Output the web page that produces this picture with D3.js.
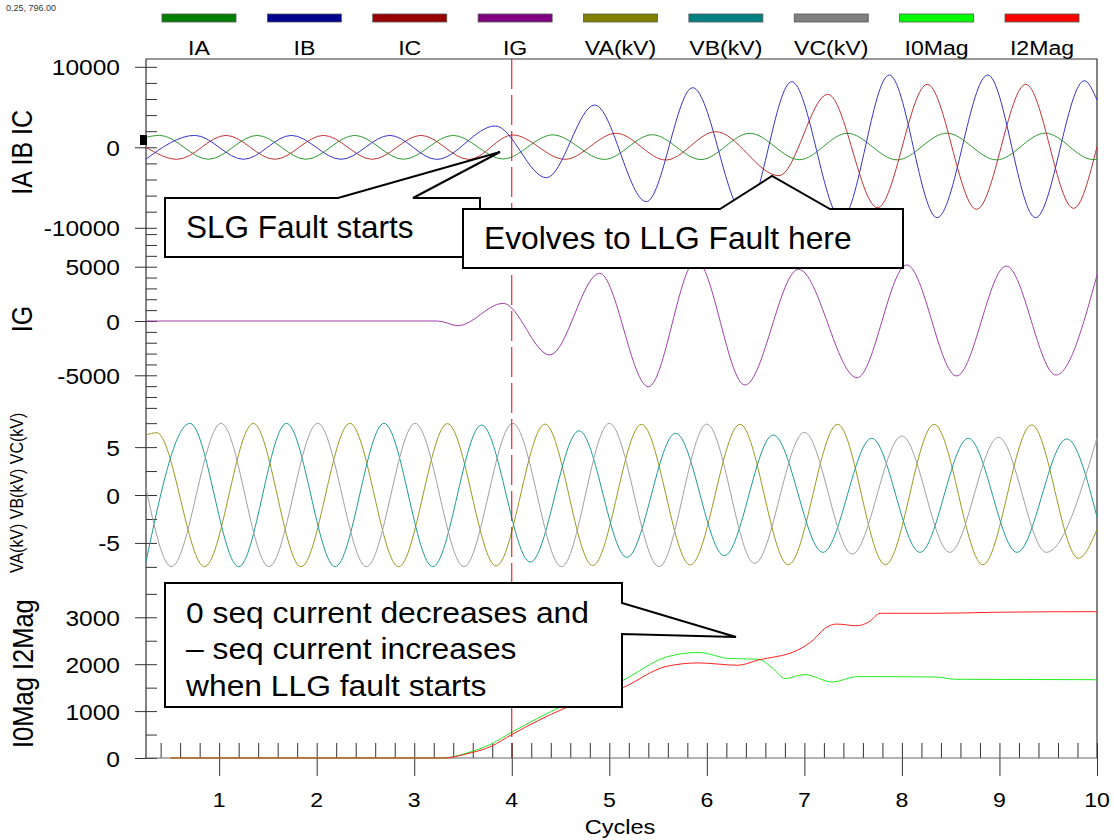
<!DOCTYPE html>
<html><head><meta charset="utf-8">
<script src="https://cdn.jsdelivr.net/npm/d3@7"></script>
<style>
body{margin:0;background:#fff}
svg{display:block}
text{font-family:"Liberation Sans",Arial,sans-serif;fill:#000}
</style>
</head><body>
<svg id="chart" width="1114" height="840"></svg>
<script>
// ---------------- data ----------------
const legendNames  = ["IA","IB","IC","IG","VA(kV)","VB(kV)","VC(kV)","I0Mag","I2Mag"];
const legendColors = ["#008000","#00008f","#990000","#800080","#808000","#008080","#808080","#00ff00","#ff0000"];
const lineColors   = ["#2f9a2f","#3535c8","#c03434","#a040a8","#9a9a1e","#1e9a9a","#a0a0a0","#22ee22","#ff2020"];
const xTickLabels = [1,2,3,4,5,6,7,8,9,10];
const panelTitles = ["IA IB IC","IG","VA(kV) VB(kV) VC(kV)","I0Mag I2Mag"];
const p1Ticks = [10000,0,-10000];
const p2Ticks = [5000,0,-5000];
const p3Ticks = [5,0,-5];
const p4Ticks = [3000,2000,1000,0];

// waveforms: extrema (time in cycles, value)
const IA_t = [0.25,0.39,0.89,1.39,1.89,2.39,2.89,3.40,3.91,4.42,4.95,5.44,5.94,6.44,6.95,7.44,7.95,8.46,8.97,9.47,9.96,10.0];
const IA_v = [1250,1480,-1490,1480,-1490,1480,-1490,1480,-1450,1540,-1500,1560,-1520,1740,-1540,1740,-1560,1760,-1560,1760,-1520,-1500];
const IB_t = [0.25,0.75,1.25,1.74,2.25,2.75,3.23,3.83,4.355,4.85,5.38,5.855,6.39,6.87,7.38,7.87,8.36,8.88,9.37,9.87,10.0];
const IB_v = [-1470,1480,-1490,1480,-1490,1480,-1500,2650,-3780,5250,-6750,7400,-8400,8150,-8900,8980,-8740,8980,-8740,8270,5870];
const IC_t = [0.25,0.57,1.07,1.57,2.07,2.57,3.07,3.56,4.01,4.545,5.07,5.58,6.09,6.74,7.24,7.75,8.26,8.765,9.27,9.76,10.0];
const IC_v = [0,-1490,1480,-1490,1480,-1490,1480,-1500,1530,-1490,1740,-1580,1940,-3530,6580,-7500,7820,-7700,7820,-7580,75];
const IG_t = [0.25,3.24,3.45,3.91,4.39,4.90,5.40,5.89,6.39,6.94,7.54,8.05,8.56,9.07,9.58,10.0];
const IG_v = [0,0,-430,1630,-3130,4390,-6050,5600,-5890,4760,-5220,5160,-5060,5060,-4970,4240];
const VA_t = [0.25,0.36,0.85,1.35,1.84,2.34,2.84,3.34,3.84,4.34,4.83,5.33,5.83,6.34,6.835,7.34,7.83,8.33,8.83,9.33,9.81,10.0];
const VA_v = [6.26,6.5,-7.48,7.48,-7.48,7.48,-7.48,7.45,-7.4,7.4,-7.35,7.38,-7.3,7.38,-7.27,7.38,-7.27,7.38,-7.27,7.32,-6.6,-3.6];
const VB_t = [0.25,0.70,1.20,1.69,2.19,2.69,3.19,3.69,4.19,4.69,5.18,5.68,6.18,6.68,7.19,7.69,8.185,8.68,9.18,9.69,10.0];
const VB_v = [-6.96,7.48,-7.48,7.48,-7.48,7.48,-7.48,7.3,-7.0,6.7,-6.5,6.44,-6.33,6.26,-5.98,5.92,-5.98,5.92,-5.98,5.85,-2.3];
const VC_t = [0.25,0.51,1.02,1.51,2.01,2.51,3.01,3.51,4.01,4.51,5.0,5.51,6.0,6.49,7.0,7.49,8.0,8.49,8.99,9.48,10.0];
const VC_v = [0.7,-7.48,7.48,-7.48,7.48,-7.48,7.48,-7.48,7.48,-7.48,7.48,-7.48,7.4,-7.13,6.54,-6.16,6.16,-5.98,6.02,-5.98,5.95];
const I0_t = [0.5,3.18,3.30,3.54,3.79,4.0,4.53,5.14,5.59,5.91,6.24,6.52,6.68,6.80,7.0,7.29,7.535,8.35,8.55,9.97,10.0];
const I0_v = [0,0,0,107,300,550,1120,1656,2156,2250,2120,2107,1907,1693,1779,1620,1736,1727,1678,1670,1657];
const I2_t = [0.5,3.18,3.30,3.54,3.79,4.0,4.53,5.14,5.59,5.91,6.32,6.52,6.93,7.09,7.21,7.33,7.535,7.66,7.78,8.35,8.96,9.97,10.0];
const I2_v = [0,0,0,90,250,500,1050,1500,1956,2027,1978,2085,2300,2513,2764,2856,2820,2900,3086,3086,3107,3120,3110];

const faultCycle = 4;

// ---------------- layout ----------------
const svg = d3.select("#chart");
const L = 146, R = 1097, T = 59, B = 758;
const x = d3.scaleLinear().domain([0.25,10]).range([L,R]);
const ph = (B-T)/4;
const panels = [
  {dom:[-10740,10970], ticks:p1Ticks, minor:2000},
  {dom:[-8057,8034],   ticks:p2Ticks, minor:1000},
  {dom:[-9.21,9.03],   ticks:p3Ticks, minor:2.5},
  {dom:[0,3726],       ticks:p4Ticks, minor:500}
];
panels.forEach((p,i)=>{
  p.top = T + i*ph; p.bot = T + (i+1)*ph;
  p.y = d3.scaleLinear().domain(p.dom).range([p.bot,p.top]);
});

function txt(g, px, py, s, size, anchor, sx, rot){
  return g.append("text").text(s)
    .attr("font-size", size).attr("text-anchor", anchor||"start")
    .attr("transform", `translate(${px},${py}) scale(${sx||1},1)` + (rot? ` rotate(${rot})` : ""));
}

// top-left status text
txt(svg, 6, 10.5, "0.25, 796.00", 9, "start", 1).style("fill","#333");

// legend
const lx = d3.scalePoint().domain(legendNames).range([199,1042]);
const lg = svg.append("g");
legendNames.forEach((n,i)=>{
  lg.append("rect").attr("x", lx(n)-37).attr("y",14).attr("width",74).attr("height",8)
    .attr("fill", legendColors[i]).attr("stroke","#555").attr("stroke-width",0.8);
  txt(lg, lx(n), 55, n, 21, "middle", 1.1);
});

// y axes per panel
const axG = svg.append("g");
panels.forEach((p,i)=>{
  const minorVals = d3.range(Math.ceil(p.dom[0]/p.minor)*p.minor, p.dom[1]+1e-9, p.minor);
  const gIn = axG.append("g").attr("transform",`translate(${L},0)`)
    .call(d3.axisRight(p.y).tickValues(minorVals).tickSize(11).tickFormat(""));
  const gOut = axG.append("g").attr("transform",`translate(${L},0)`)
    .call(d3.axisLeft(p.y).tickValues(p.ticks).tickSize(11).tickFormat(""));
  [gIn,gOut].forEach(g=>{ g.select(".domain").remove(); g.selectAll("line").attr("stroke","#333"); });
  p.ticks.forEach(v=>{
    txt(axG, 120, p.y(v)+8.5, String(v), 22.3, "end", 1.1);
  });
});

// axis titles
txt(svg, 32, (panels[0].top+panels[0].bot)/2+6, panelTitles[0], 25, "middle", 1.15, -90);
txt(svg, 32, (panels[1].top+panels[1].bot)/2-2, panelTitles[1], 25, "middle", 1.15, -90);
txt(svg, 23, (panels[2].top+panels[2].bot)/2-3, panelTitles[2], 16, "middle", 1.1, -90);
txt(svg, 33, (panels[3].top+panels[3].bot)/2+3, panelTitles[3], 25.5, "middle", 1.15, -90);

// x axis
const minorX = d3.range(0.4, 10.001, 0.2);
const gxu = svg.append("g").attr("transform",`translate(0,${B})`)
  .call(d3.axisTop(x).tickValues(minorX).tickSize(15).tickFormat(""));
const gxd = svg.append("g").attr("transform",`translate(0,${B})`)
  .call(d3.axisBottom(x).tickValues(xTickLabels).tickSize(18).tickFormat(""));
[gxu,gxd].forEach(g=>{ g.select(".domain").remove(); g.selectAll("line").attr("stroke","#333"); });
xTickLabels.forEach(v=> txt(svg, x(v), 806.5, String(v), 21, "middle", 1.1));
txt(svg, 620, 834, "Cycles", 20.5, "middle", 1.15);

// frame
svg.append("path").attr("d",`M${L},${B}V${T}H${R}V${B}`).attr("fill","none").attr("stroke","#333").attr("stroke-width",1.2);
svg.append("line").attr("x1",L).attr("x2",R).attr("y1",B).attr("y2",B).attr("stroke","#666").attr("stroke-width",1.2);

// series
const plot = svg.append("g");
function series(tArr, vArr, p, color){
  const pts = tArr.map((t,i)=>[t, vArr[i]]);
  const line = d3.line().x(d=>x(d[0])).y(d=>p.y(d[1])).curve(d3.curveMonotoneX);
  plot.append("path").attr("d", line(pts)).attr("fill","none")
    .attr("stroke", color).attr("stroke-width",1);
}
series(IA_t, IA_v, panels[0], lineColors[0]);
series(IC_t, IC_v, panels[0], lineColors[2]);
series(IB_t, IB_v, panels[0], lineColors[1]);
series(IG_t, IG_v, panels[1], lineColors[3]);
series(VA_t, VA_v, panels[2], lineColors[4]);
series(VB_t, VB_v, panels[2], lineColors[5]);
series(VC_t, VC_v, panels[2], lineColors[6]);
series(I0_t, I0_v, panels[3], lineColors[7]);
series(I2_t, I2_v, panels[3], lineColors[8]);

// fault cursor
svg.append("line").attr("x1",x(faultCycle)).attr("x2",x(faultCycle)).attr("y1",T).attr("y2",B)
  .attr("stroke","#e00000").attr("stroke-width",1).attr("stroke-dasharray","30,6");
// small marker at left
svg.append("rect").attr("x",140).attr("y",135).attr("width",7).attr("height",10).attr("fill","#000");

// callouts
const co = svg.append("g");
function callout(d){
  co.append("path").attr("d",d).attr("fill","#fff").attr("stroke","#000").attr("stroke-width",2).attr("stroke-linejoin","miter");
}
callout("M165,198L338,198L500,152L413,198L480,198L480,257L165,257Z");
txt(co, 186, 238, "SLG Fault starts", 31.5, "start", 1);
callout("M463,209L720,209L772,176L830,209L903,209L903,268L463,268Z");
txt(co, 484, 249, "Evolves to LLG Fault here", 31.8, "start", 1);
callout("M165,583L622,583L622,603L736,637L622,634L622,707L165,707Z");
txt(co, 186, 622.5, "0 seq current decreases and", 30, "start", 1.06);
txt(co, 186, 659.2, "\u2013 seq current increases", 30, "start", 1.06);
txt(co, 186, 696, "when LLG fault starts", 30, "start", 1.06);
</script>
</body></html>
